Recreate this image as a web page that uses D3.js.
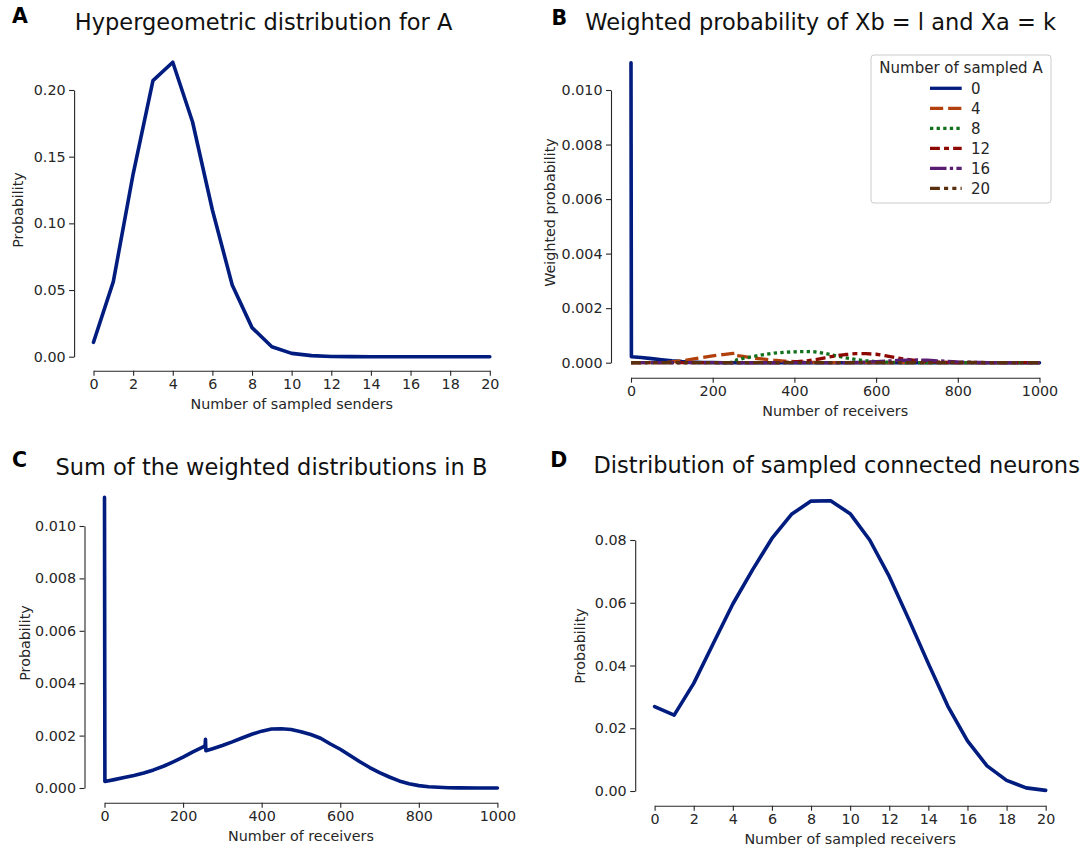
<!DOCTYPE html>
<html>
<head>
<meta charset="utf-8">
<script src="https://cdn.jsdelivr.net/npm/d3@7"></script>
<style>
  html, body { margin: 0; padding: 0; background: #ffffff; }
  svg { display: block; font-family: "DejaVu Sans", sans-serif; }
</style>
</head>
<body>
<svg id="chart" width="1080" height="850"></svg>
<script>
// ---------- DATA ----------
// Panel A: hypergeometric distribution
const sendersA = d3.range(0, 21);
const probA = [0.0108, 0.0563, 0.137, 0.207, 0.2208, 0.176, 0.110, 0.0538, 0.0218, 0.0075,
               0.0025, 0.0008, 0.0002, 0.00005, 0, 0, 0, 0, 0, 0, 0];
const ticksAX = [0, 2, 4, 6, 8, 10, 12, 14, 16, 18, 20];
const ticksAY = [0, 0.05, 0.10, 0.15, 0.20];

// Panel B: weighted probability curves (receivers grid)
const receiversB = [0, 1, 25, 50, 75, 100, 125, 150, 175, 200, 225, 250, 257, 258, 275, 300, 325, 350,
                    375, 400, 425, 450, 475, 500, 525, 550, 575, 600, 625, 650, 675, 700, 725, 750,
                    775, 800, 825, 850, 875, 900, 925, 950, 975, 1000];
const seriesNamesB = ["0", "4", "8", "12", "16", "20"];
const weighted0 = [0.0110, 0.00022, 0.00019, 0.00015, 0.00011, 0.00007, 0.00004, 0.00002, 0.00001, 0.000005, 0, 0, 0, 0, 0, 0, 0, 0,
                   0, 0, 0, 0, 0, 0, 0, 0, 0, 0, 0, 0, 0, 0, 0, 0, 0, 0, 0, 0, 0, 0, 0, 0, 0, 0];
const weighted4 = [0, 0, 0, 0, 0.00001, 0.00003, 0.00007, 0.00013, 0.00019, 0.00025, 0.0003, 0.00034, 0.00035, 0.00026, 0.00023, 0.00017, 0.00013, 0.00009,
                   0.00006, 0.00004, 0.00002, 0.00001, 0, 0, 0, 0, 0, 0, 0, 0, 0, 0, 0, 0, 0, 0, 0, 0, 0, 0, 0, 0, 0, 0];
const weighted8 = [0, 0, 0, 0, 0, 0, 0, 0, 0, 0, 0, 0.00001, 0.00002, 0.0001, 0.00016, 0.00023, 0.0003, 0.00035,
                   0.00038, 0.0004, 0.00041, 0.0004, 0.00034, 0.00026, 0.00018, 0.00012, 0.00007, 0.00004, 0.00002, 0.00001, 0, 0, 0, 0,
                   0, 0, 0, 0, 0, 0, 0, 0, 0, 0];
const weighted12 = [0, 0, 0, 0, 0, 0, 0, 0, 0, 0, 0, 0, 0, 0, 0, 0, 0, 0,
                    0.00001, 0.00003, 0.00006, 0.00011, 0.00018, 0.00025, 0.0003, 0.00033, 0.00033, 0.00031, 0.00025, 0.00018, 0.00012, 0.00008, 0.00005, 0.00003,
                    0.00001, 0, 0, 0, 0, 0, 0, 0, 0, 0];
const weighted16 = [0, 0, 0, 0, 0, 0, 0, 0, 0, 0, 0, 0, 0, 0, 0, 0, 0, 0,
                    0, 0, 0, 0, 0, 0, 0, 0.00001, 0.00002, 0.00004, 0.00006, 0.00008, 0.00009, 0.0001, 0.00009, 0.00007,
                    0.00005, 0.00003, 0.00002, 0.00001, 0, 0, 0, 0, 0, 0];
const weighted20 = [0, 0, 0, 0, 0, 0, 0, 0, 0, 0, 0, 0, 0, 0, 0, 0, 0, 0,
                    0, 0, 0, 0, 0, 0, 0, 0, 0, 0, 0, 0, 0, 0, 0, 0,
                    0.000005, 0.00001, 0.00001, 0.000008, 0.000005, 0.000002, 0, 0, 0, 0];
const ticksBX = [0, 200, 400, 600, 800, 1000];
const ticksBY = [0, 0.002, 0.004, 0.006, 0.008, 0.010];

// Panel C: sum of weighted distributions
const receiversC = [0, 1, 25, 50, 75, 100, 125, 150, 175, 200, 225, 250, 256, 257, 258, 275, 300, 325, 350,
                    375, 400, 425, 450, 475, 500, 525, 550, 575, 600, 625, 650, 675, 700, 725, 750, 775,
                    800, 825, 850, 875, 900, 950, 1000];
const probC = [0.0111, 0.00025, 0.00032, 0.0004, 0.00048, 0.00057, 0.00069, 0.00083, 0.001, 0.00118, 0.00138, 0.00156, 0.00162, 0.00186, 0.00142, 0.0015, 0.00162, 0.00176, 0.00191,
               0.00205, 0.00217, 0.00225, 0.00226, 0.00223, 0.00215, 0.00204, 0.0019, 0.00168, 0.00148, 0.00124, 0.001, 0.00078, 0.00059, 0.00042, 0.00027, 0.00016,
               0.00009, 0.00005, 0.00003, 0.00001, 0.000005, 0, 0];
const ticksCX = [0, 200, 400, 600, 800, 1000];
const ticksCY = [0, 0.002, 0.004, 0.006, 0.008, 0.010];

// Panel D: distribution of sampled connected neurons
const receiversD = d3.range(0, 21);
const probD = [0.0269, 0.0242, 0.0343, 0.0470, 0.0596, 0.0704, 0.0805, 0.0882, 0.0924, 0.0925, 0.0884,
               0.0800, 0.0684, 0.0547, 0.0406, 0.0270, 0.0160, 0.0080, 0.0034, 0.0010, 0.0002];
const ticksDX = [0, 2, 4, 6, 8, 10, 12, 14, 16, 18, 20];
const ticksDY = [0, 0.02, 0.04, 0.06, 0.08];

// ---------- STYLE ----------
const palette = ["#001c7f", "#b1400d", "#12711c", "#8c0800", "#591e71", "#592f0d"];
const LW = 3.6;
const dashUnits = [null, [4, 1.5], [1, 1], [3, 1.25, 1.5, 1.25], [5, 1, 1, 1], [3, 1.25, 1.25, 1.25, 1.25, 1.25]];
const DASH_LW = 3.3;
const dashStr = d => d ? d.map(v => (v * DASH_LW).toFixed(2)).join(",") : null;
const TXT = "#262626";

const svg = d3.select("#chart");

function panel(cfg) {
  const g = svg.append("g");
  const x = d3.scaleLinear().domain(cfg.xDomain).range(cfg.xRange);
  const y = d3.scaleLinear().domain(cfg.yDomain).range(cfg.yRange);

  const yAxis = d3.axisLeft(y).tickValues(cfg.yTicks).tickFormat(d3.format(cfg.yFmt))
    .tickSize(5).tickSizeOuter(0).tickPadding(3.5);
  const xAxis = d3.axisBottom(x).tickValues(cfg.xTicks).tickFormat(d3.format("d"))
    .tickSize(5).tickSizeOuter(0).tickPadding(3.5);

  const ya = g.append("g").attr("transform", `translate(${cfg.ySpine},0)`).call(yAxis);
  const xa = g.append("g").attr("transform", `translate(0,${cfg.xSpine})`).call(xAxis);
  [ya, xa].forEach(a => {
    a.selectAll("path.domain").attr("stroke", TXT).attr("stroke-width", 1.1);
    a.selectAll(".tick line").attr("stroke", TXT).attr("stroke-width", 1.1);
    a.selectAll(".tick text").attr("fill", TXT).style("font-size", "14.3px")
      .style("font-family", "'DejaVu Sans', sans-serif");
  });

  // axis labels
  g.append("text").attr("x", (cfg.xRange[0] + cfg.xRange[1]) / 2).attr("y", cfg.xSpine + 38)
    .attr("text-anchor", "middle").attr("fill", TXT).style("font-size", "14.3px").text(cfg.xLabel);
  g.append("text").attr("transform", `translate(${cfg.yLabelX},${cfg.yLabelY}) rotate(-90)`)
    .attr("text-anchor", "middle").attr("dy", "0.35em").attr("fill", TXT).style("font-size", "14.3px").text(cfg.yLabel);

  // title + letter
  g.append("text").attr("x", cfg.titleX).attr("y", cfg.titleY).attr("text-anchor", "middle")
    .attr("fill", "#111").style("font-size", "22.5px").text(cfg.title);
  g.append("text").attr("x", cfg.letterX).attr("y", cfg.letterY)
    .attr("fill", "#000").style("font-size", "20.5px").style("font-weight", "bold").text(cfg.letter);

  // lines
  cfg.series.forEach((s, i) => {
    const line = d3.line().x((d, j) => x(s.xs[j])).y(d => y(d));
    g.append("path").datum(s.ys).attr("d", line).attr("fill", "none")
      .attr("stroke", s.color).attr("stroke-width", s.dash ? DASH_LW : LW)
      .attr("stroke-linejoin", "round")
      .attr("stroke-linecap", s.dash ? "butt" : "round")
      .attr("stroke-dasharray", s.dash);
  });
  return { g, x, y };
}

// Panel A
panel({
  xDomain: [0, 20], xRange: [93.5, 489.8], yDomain: [0, 0.2], yRange: [356.7, 90],
  ySpine: 74.1, xSpine: 370.7, xTicks: ticksAX, yTicks: ticksAY, yFmt: ".2f",
  xLabel: "Number of sampled senders", yLabel: "Probability", yLabelX: 18, yLabelY: 210,
  title: "Hypergeometric distribution for A", titleX: 263.6, titleY: 29.5,
  letter: "A", letterX: 12, letterY: 23.3,
  series: [{ xs: sendersA, ys: probA, color: palette[0], dash: null }]
});

// Panel B
const weightedB = [weighted0, weighted4, weighted8, weighted12, weighted16, weighted20];
panel({
  xDomain: [0, 1000], xRange: [631, 1039.5], yDomain: [0, 0.01], yRange: [362.7, 90],
  ySpine: 611, xSpine: 377.7, xTicks: ticksBX, yTicks: ticksBY, yFmt: ".3f",
  xLabel: "Number of receivers", yLabel: "Weighted probability", yLabelX: 549.5, yLabelY: 212.5,
  title: "Weighted probability of Xb = l and Xa = k", titleX: 820.7, titleY: 30,
  letter: "B", letterX: 551.5, letterY: 25,
  series: weightedB.map((ys, i) => ({ xs: receiversB, ys, color: palette[i], dash: dashStr(dashUnits[i]) }))
});

// Legend for B
const leg = svg.append("g");
leg.append("rect").attr("x", 871).attr("y", 55).attr("width", 180).attr("height", 148).attr("rx", 3)
  .attr("fill", "#fff").attr("fill-opacity", 0.8).attr("stroke", "#cccccc").attr("stroke-width", 1);
leg.append("text").attr("x", 961).attr("y", 72.5).attr("text-anchor", "middle").attr("fill", TXT)
  .style("font-size", "15px").text("Number of sampled A");
seriesNamesB.forEach((name, i) => {
  const cy = 88.3 + 20 * i;
  leg.append("line").attr("x1", 930).attr("x2", 961.7).attr("y1", cy).attr("y2", cy)
    .attr("stroke", palette[i]).attr("stroke-width", DASH_LW).attr("stroke-dasharray", dashStr(dashUnits[i]))
    .attr("stroke-linecap", "butt");
  leg.append("text").attr("x", 971).attr("y", cy + 5.5).attr("fill", TXT).style("font-size", "15px").text(name);
});

// Panel C
panel({
  xDomain: [0, 1000], xRange: [104.5, 497.4], yDomain: [0, 0.01], yRange: [788, 526],
  ySpine: 84.5, xSpine: 802.7, xTicks: ticksCX, yTicks: ticksCY, yFmt: ".3f",
  xLabel: "Number of receivers", yLabel: "Probability", yLabelX: 25, yLabelY: 643,
  title: "Sum of the weighted distributions in B", titleX: 271.4, titleY: 474.5,
  letter: "C", letterX: 12, letterY: 467.3,
  series: [{ xs: receiversC, ys: probC, color: palette[0], dash: null }]
});

// Panel D
panel({
  xDomain: [0, 20], xRange: [654.6, 1045.7], yDomain: [0, 0.08], yRange: [791, 540],
  ySpine: 635.2, xSpine: 805.7, xTicks: ticksDX, yTicks: ticksDY, yFmt: ".2f",
  xLabel: "Number of sampled receivers", yLabel: "Probability", yLabelX: 580, yLabelY: 646,
  title: "Distribution of sampled connected neurons", titleX: 836.7, titleY: 473.3,
  letter: "D", letterX: 550.3, letterY: 467,
  series: [{ xs: receiversD, ys: probD, color: palette[0], dash: null }]
});
</script>
</body>
</html>
